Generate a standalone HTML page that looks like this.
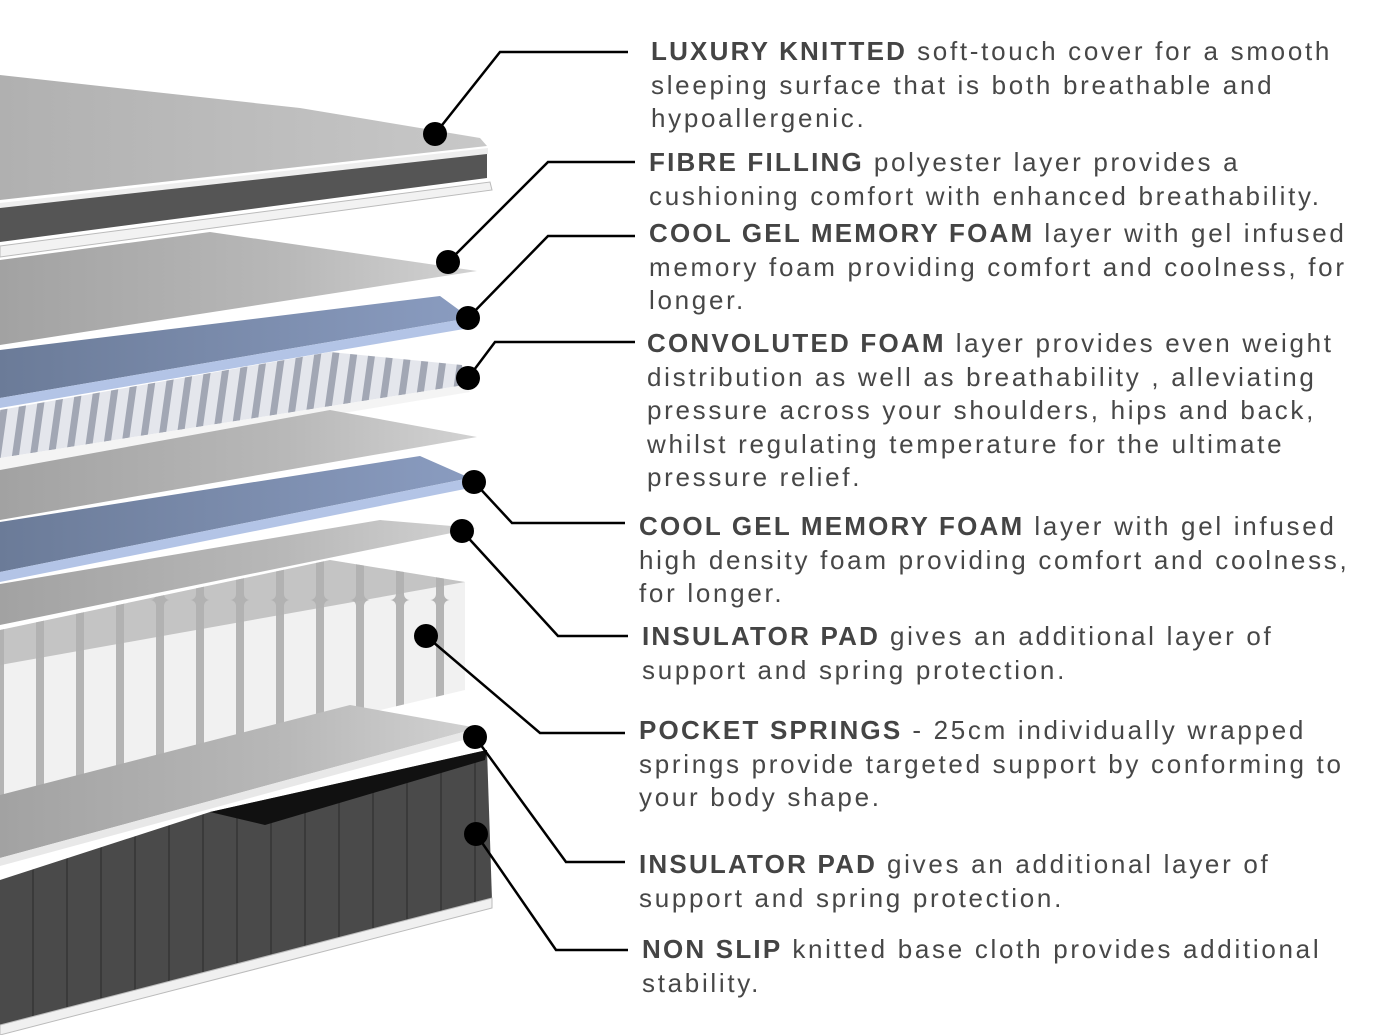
<!DOCTYPE html>
<html><head><meta charset="utf-8"><style>
html,body{margin:0;padding:0;background:#fff;}
#wrap{position:relative;width:1381px;height:1035px;overflow:hidden;background:#fff;}
svg{position:absolute;left:0;top:0;}
.t{position:absolute;font-family:"Liberation Sans",Arial,sans-serif;font-size:26px;color:#474747;letter-spacing:2.7px;white-space:nowrap;line-height:33.5px;}
.t b{color:#444;letter-spacing:2.2px;}
</style></head><body><div id="wrap">
<svg width="1381" height="1035" viewBox="0 0 1381 1035">
<defs>
<linearGradient id="top" x1="0" y1="0" x2="1" y2="0"><stop offset="0" stop-color="#b0b0b0"/><stop offset="1" stop-color="#c8c8c8"/></linearGradient>
<linearGradient id="gs" x1="0" y1="0" x2="1" y2="0"><stop offset="0" stop-color="#a2a2a2"/><stop offset="0.6" stop-color="#b8b8b8"/><stop offset="1" stop-color="#d2d2d2"/></linearGradient>
<linearGradient id="bl" x1="0" y1="0" x2="1" y2="0"><stop offset="0" stop-color="#6b7b98"/><stop offset="1" stop-color="#8a9cc0"/></linearGradient>
<pattern id="rib" width="18" height="100" patternUnits="userSpaceOnUse" patternTransform="skewX(-8)"><rect width="18" height="100" fill="#e4e6ec"/><rect x="4" width="7" height="100" fill="#a2a7b4"/></pattern>
<pattern id="spr" width="40" height="300" patternUnits="userSpaceOnUse"><rect width="40" height="300" fill="#b4b4b4"/><rect x="4" width="32" height="300" rx="6" fill="#f1f1f1"/></pattern>
<pattern id="base" width="34" height="300" patternUnits="userSpaceOnUse"><rect width="34" height="300" fill="#4a4a4a"/><rect x="32" width="2" height="300" fill="#3a3a3a"/></pattern>
</defs>
<polygon points="0,75 300,108 480,138 487,146 0,200" fill="url(#top)"/>
<polygon points="0,203 488,148 488,154 0,210" fill="#eee"/>
<polygon points="0,208 487,154 487,178 0,242" fill="#555"/>
<polygon points="0,246 490,182 492,190 0,257" fill="#f2f2f2" stroke="#bbb" stroke-width="1"/>
<polygon points="0,260 210,232 477,271 0,345" fill="url(#gs)"/>
<polygon points="0,350 440,296 470,318 0,398" fill="url(#bl)"/>
<polygon points="0,398 470,318 470,328 0,408" fill="#b3c4e6"/>
<polygon points="0,410 330,352 462,365 465,385 0,458" fill="url(#rib)"/>
<polygon points="0,458 465,385 470,392 0,470" fill="#f4f4f4"/>
<polygon points="0,470 330,410 477,437 0,520" fill="url(#gs)"/>
<polygon points="0,522 420,456 470,478 0,572" fill="url(#bl)"/>
<polygon points="0,572 470,478 470,488 0,582" fill="#b3c4e6"/>
<polygon points="0,584 380,520 476,528 0,625" fill="url(#gs)"/>
<polygon points="0,630 330,560 465,582 465,690 0,800" fill="url(#spr)"/>
<polygon points="0,630 330,560 465,582 0,665" fill="#b0b0b0" opacity="0.7"/>
<polygon points="0,795 350,705 478,728 0,858" fill="url(#gs)"/>
<polygon points="0,858 478,728 478,736 0,866" fill="#e8e8e8"/>
<polygon points="0,880 210,812 487,750 492,900 0,1025" fill="url(#base)"/>
<polygon points="210,812 487,750 485,760 265,825" fill="#111"/>
<polygon points="0,1025 492,898 492,908 0,1035" fill="#f0f0f0" stroke="#bbb"/>
<g stroke="#000" stroke-width="2.5" fill="none">
<polyline points="435,134 500,52 628,52"/>
<polyline points="448,262 548,162 635,162"/>
<polyline points="468,318 548,236 635,236"/>
<polyline points="468,378 495,342 635,342"/>
<polyline points="474,482 512,523 625,523"/>
<polyline points="462,531 558,636 628,636"/>
<polyline points="426,636 540,733 625,733"/>
<polyline points="475,737 566,862 625,862"/>
<polyline points="476,834 556,950 628,950"/>
</g>
<g fill="#000">
<circle cx="435" cy="134" r="12"/><circle cx="448" cy="262" r="12"/><circle cx="468" cy="318" r="12"/>
<circle cx="468" cy="378" r="12"/><circle cx="474" cy="482" r="12"/><circle cx="462" cy="531" r="12"/>
<circle cx="426" cy="636" r="12"/><circle cx="475" cy="737" r="12"/><circle cx="476" cy="834" r="12"/>
</g>
</svg>
<div class="t" style="left:651px;top:35px"><b>LUXURY KNITTED</b> soft-touch cover for a smooth<br>sleeping surface that is both breathable and<br>hypoallergenic.</div>
<div class="t" style="left:649px;top:146px"><b>FIBRE FILLING</b> polyester layer provides a<br>cushioning comfort with enhanced breathability.</div>
<div class="t" style="left:649px;top:217px"><b>COOL GEL MEMORY FOAM</b> layer with gel infused<br>memory foam providing comfort and coolness, for<br>longer.</div>
<div class="t" style="left:647px;top:327px"><b>CONVOLUTED FOAM</b> layer provides even weight<br>distribution as well as breathability , alleviating<br>pressure across your shoulders, hips and back,<br>whilst regulating temperature for the ultimate<br>pressure relief.</div>
<div class="t" style="left:639px;top:510px"><b>COOL GEL MEMORY FOAM</b> layer with gel infused<br>high density foam providing comfort and coolness,<br>for longer.</div>
<div class="t" style="left:642px;top:620px"><b>INSULATOR PAD</b> gives an additional layer of<br>support and spring protection.</div>
<div class="t" style="left:639px;top:714px"><b>POCKET SPRINGS</b> - 25cm individually wrapped<br>springs provide targeted support by conforming to<br>your body shape.</div>
<div class="t" style="left:639px;top:848px"><b>INSULATOR PAD</b> gives an additional layer of<br>support and spring protection.</div>
<div class="t" style="left:642px;top:933px"><b>NON SLIP</b> knitted base cloth provides additional<br>stability.</div>
</div></body></html>
